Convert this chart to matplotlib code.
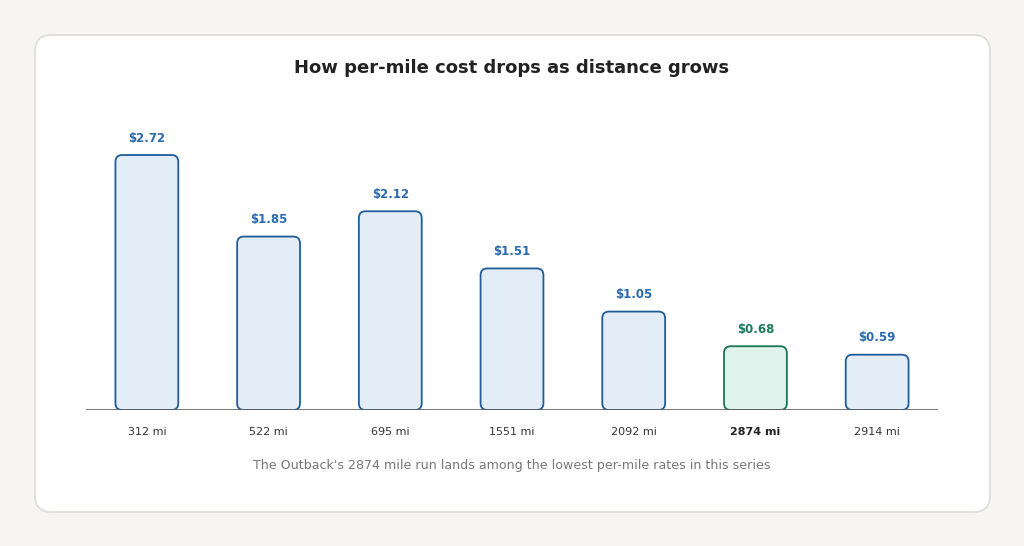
import matplotlib.pyplot as plt
from matplotlib.patches import FancyBboxPatch

miles = ["312 mi", "522 mi", "695 mi", "1551 mi", "2092 mi", "2874 mi", "2914 mi"]
cost_per_mile = [2.72, 1.85, 2.12, 1.51, 1.05, 0.68, 0.59]
highlight = 5  # the Outback run

blue_fill, blue_edge, blue_text = "#e3edf7", "#1f5c99", "#2a6aad"
green_fill, green_edge, green_text = "#e0f3ec", "#1c7455", "#1f7a59"

fig = plt.figure(figsize=(10.24, 5.46), dpi=100)
fig.patch.set_facecolor("#f6f5f1")

# white card behind the chart
card = FancyBboxPatch((35 / 1024, 34 / 546), 955 / 1024, 477 / 546,
                      boxstyle="round,pad=0,rounding_size=0.016",
                      transform=fig.transFigure, facecolor="white",
                      edgecolor="#dddcd6", linewidth=1.2,
                      mutation_aspect=1024 / 546, zorder=-1)
fig.patches.append(card)

ax = fig.add_axes([86 / 1024, 136 / 546, 852 / 1024, 300 / 546], zorder=1)
ax.set_facecolor("none")
ax.set_xlim(-0.5, 6.5)
ax.set_ylim(0, 300 / 93.75)

width = 63 / 122
for i, v in enumerate(cost_per_mile):
    hl = i == highlight
    fill = green_fill if hl else blue_fill
    edge = green_edge if hl else blue_edge
    txt = green_text if hl else blue_text
    bar = FancyBboxPatch((i - width / 2, 0), width, v,
                         boxstyle="round,pad=0,rounding_size=0.055",
                         mutation_aspect=122 / 93.75,
                         facecolor=fill, edgecolor=edge, linewidth=1.3, zorder=2)
    ax.add_patch(bar)
    ax.text(i, v + 0.11, f"${v:.2f}", ha="center", va="bottom",
            fontsize=8.5, fontweight="bold", color=txt)

ax.axhline(0, color="#5f5f5f", linewidth=1.2, zorder=3)
for s in ax.spines.values():
    s.set_visible(False)
ax.set_yticks([])
ax.set_xticks(range(len(miles)))
ax.set_xticklabels(miles, fontsize=8, color="#333333")
ax.tick_params(axis="x", length=0, pad=12)
ax.get_xticklabels()[highlight].set_fontweight("bold")
ax.get_xticklabels()[highlight].set_color("#222222")

fig.text(512 / 1024, 1 - 68 / 546, "How per-mile cost drops as distance grows",
         ha="center", va="center", fontsize=13, fontweight="bold", color="#222222")
fig.text(512 / 1024, 1 - 465 / 546,
         "The Outback's 2874 mile run lands among the lowest per-mile rates in this series",
         ha="center", va="center", fontsize=9.1, color="#777777")

plt.savefig("out.png", dpi=100, facecolor=fig.get_facecolor())
